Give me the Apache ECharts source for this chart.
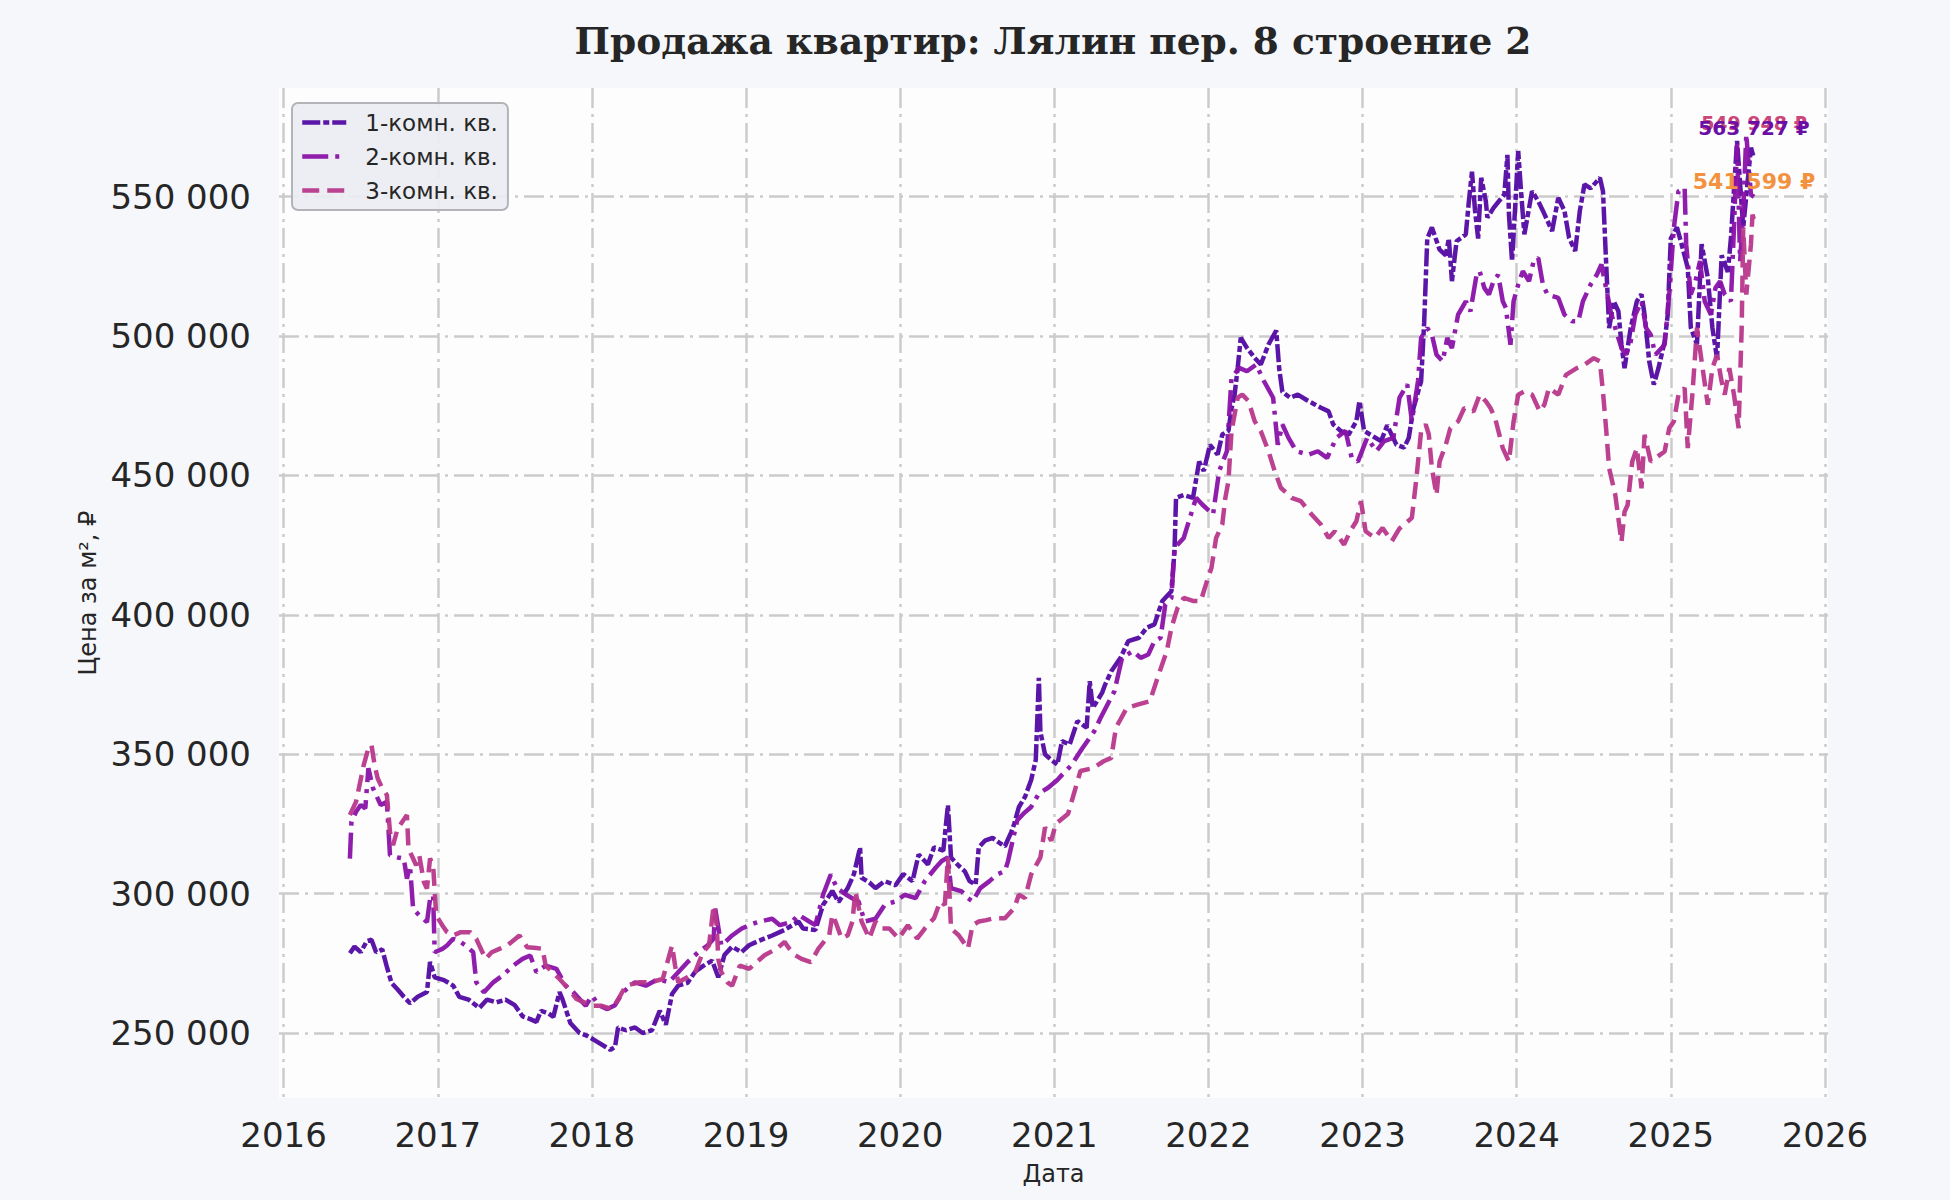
<!DOCTYPE html>
<html>
<head>
<meta charset="utf-8">
<title>Продажа квартир: Лялин пер. 8 строение 2</title>
<script src="https://cdn.jsdelivr.net/npm/echarts@6/dist/echarts.min.js"></script>
<style>
  html, body { margin: 0; padding: 0; background: #f5f7fb; }
  #chart { width: 1950px; height: 1200px; }
</style>
</head>
<body>
<div id="chart"></div>
<script>
// x: decimal year, values: thousand rubles per m2
var names = ['1-комн. кв.', '2-комн. кв.', '3-комн. кв.'];
var colors = ['#520aa2', '#8a12a8', '#b8388b'];

var t1 = [2016.43,2016.46,2016.50,2016.54,2016.57,2016.60,2016.64,2016.67,2016.70,2016.74,2016.78,2016.82,2016.87,2016.93,2016.95,2016.98,
  2017.04,2017.10,2017.14,2017.20,2017.27,2017.32,2017.38,2017.44,2017.50,2017.55,2017.60,2017.64,2017.67,2017.72,2017.75,2017.79,2017.81,2017.86,2017.92,2017.97,
  2018.03,2018.09,2018.12,2018.15,2018.17,2018.22,2018.28,2018.33,2018.39,2018.44,2018.48,2018.52,2018.56,2018.62,2018.67,2018.72,2018.78,2018.82,2018.86,2018.91,2018.97,
  2019.02,2019.08,2019.17,2019.25,2019.34,2019.37,2019.45,2019.50,2019.56,2019.60,2019.66,2019.70,2019.74,2019.75,2019.80,2019.84,2019.90,2019.97,
  2020.02,2020.08,2020.12,2020.18,2020.22,2020.28,2020.31,2020.33,2020.38,2020.42,2020.45,2020.49,2020.51,2020.55,2020.60,2020.65,2020.68,2020.72,2020.74,2020.77,2020.81,2020.85,2020.88,2020.90,2020.91,2020.94,2020.98,
  2021.02,2021.05,2021.10,2021.15,2021.21,2021.23,2021.25,2021.31,2021.33,2021.37,2021.43,2021.48,2021.55,2021.60,2021.65,2021.70,2021.76,2021.78,2021.79,2021.84,2021.90,2021.94,2021.97,
  2022.01,2022.06,2022.09,2022.13,2022.15,2022.17,2022.19,2022.21,2022.25,2022.30,2022.34,2022.39,2022.44,2022.46,2022.48,2022.53,2022.58,2022.64,2022.69,2022.73,2022.78,2022.81,2022.86,2022.91,2022.96,2022.98,
  2023.01,2023.07,2023.12,2023.16,2023.22,2023.27,2023.30,2023.33,2023.38,2023.40,2023.42,2023.45,2023.50,2023.54,2023.56,2023.58,2023.61,2023.67,2023.69,2023.71,2023.73,2023.75,2023.77,2023.80,2023.81,2023.85,2023.92,2023.94,2023.95,2023.97,2023.99,
  2024.01,2024.03,2024.05,2024.10,2024.14,2024.17,2024.23,2024.27,2024.31,2024.34,2024.38,2024.41,2024.44,2024.48,2024.54,2024.56,2024.58,2024.60,2024.63,2024.66,2024.68,2024.70,2024.74,2024.78,2024.81,2024.83,2024.86,2024.89,2024.92,2024.96,2024.98,
  2025.00,2025.04,2025.07,2025.11,2025.13,2025.17,2025.20,2025.24,2025.27,2025.30,2025.33,2025.37,2025.39,2025.43,2025.47,2025.52,2025.54];
var p1 = [278.6,281,279,283,283.5,279,280,273.7,268,265.6,263,260.7,263,264.7,275.5,270,
  269,267,263,262,259,262,261,262,260,256,255,254,258,257,255.8,264.7,262,253.6,250,249,
  247,245,244,245,252,251,252,250,251,258,253,264,267,268,272,274,276,270,278,281,279,
  281.5,283,285,287,290,287.5,287,296,301,297,302,307,316.6,305.7,304,302,304.5,303,
  307,304.5,314,310.5,316.6,315.4,331.7,313,310,308,304.5,303.3,316.6,319,320,318,317,322,325,331,334.7,340.8,348,377.4,358,350,348,
  346.3,354.7,353.5,361.9,359.5,376.2,366.6,372,375,379.8,384.6,390.6,391.8,395.4,396.6,404.9,408.5,422.9,442,443,442,455,451.6,
  461,457.5,464.7,466,474,479,488.6,499.4,495.8,492.2,489.8,497,502,488,480,477.9,479,477,475.5,474.3,473,468.3,465.9,464.7,469.5,476.7,
  466,464,462.3,468,461,460,463.5,474,483.8,505,535,539,531,529,535,519.7,534,536.5,548.4,559,545,535,556.8,548.4,542.5,546,550.8,565,543.6,526.9,546,
  566.4,550.8,536.5,552,548.4,545,537.7,549.6,545,535.3,530.5,545,554.4,553,556.8,552,526.9,502.9,512.5,508.9,497,488.5,503,512.5,515,507.7,491,482.6,488.5,498,507.7,
  535,539,533,524.5,503,497,533,521,503,492,529,523,535,570,539,567.6,563.727];

var t2 = [2016.43,2016.44,2016.47,2016.50,2016.53,2016.55,2016.58,2016.63,2016.67,2016.69,2016.74,2016.78,2016.80,2016.82,2016.84,2016.88,2016.93,2016.95,2016.97,2016.98,
  2017.03,2017.06,2017.10,2017.14,2017.18,2017.23,2017.25,2017.30,2017.36,2017.42,2017.49,2017.55,2017.60,2017.64,2017.70,2017.77,2017.83,2017.88,2017.92,2017.96,
  2018.00,2018.05,2018.10,2018.15,2018.20,2018.28,2018.35,2018.43,2018.50,2018.56,2018.62,2018.69,2018.75,2018.79,2018.80,2018.84,2018.91,2018.97,
  2019.03,2019.09,2019.17,2019.22,2019.30,2019.34,2019.41,2019.45,2019.50,2019.55,2019.59,2019.65,2019.70,2019.73,2019.77,2019.84,2019.90,2019.97,
  2020.03,2020.10,2020.16,2020.23,2020.27,2020.31,2020.33,2020.40,2020.44,2020.47,2020.52,2020.58,2020.63,2020.68,2020.70,2020.73,2020.76,2020.80,2020.85,2020.90,2020.96,
  2021.02,2021.06,2021.11,2021.18,2021.26,2021.30,2021.39,2021.44,2021.51,2021.56,2021.61,2021.65,2021.69,2021.72,2021.76,2021.78,2021.84,2021.88,2021.92,2021.96,
  2022.03,2022.07,2022.12,2022.15,2022.20,2022.25,2022.31,2022.36,2022.42,2022.45,2022.48,2022.52,2022.57,2022.65,2022.71,2022.77,2022.83,2022.89,2022.93,2022.97,
  2023.03,2023.09,2023.14,2023.20,2023.24,2023.29,2023.32,2023.36,2023.38,2023.42,2023.45,2023.48,2023.52,2023.55,2023.58,2023.62,2023.67,2023.70,2023.74,2023.76,2023.79,2023.82,2023.85,2023.88,2023.91,2023.93,2023.96,2023.98,
  2024.01,2024.04,2024.08,2024.11,2024.14,2024.17,2024.20,2024.27,2024.31,2024.36,2024.40,2024.43,2024.48,2024.52,2024.55,2024.58,2024.61,2024.64,2024.68,2024.71,2024.74,2024.77,2024.81,2024.84,2024.87,2024.90,2024.96,2024.99,
  2025.02,2025.05,2025.09,2025.10,2025.13,2025.16,2025.19,2025.22,2025.26,2025.29,2025.32,2025.35,2025.39,2025.41,2025.43,2025.45,2025.47,2025.49,2025.52,2025.54];
var p2 = [312.6,325.8,329.4,331.8,330.6,345,337.8,331.8,333,313.8,313,312.6,305.4,310,294.6,292.2,289.8,298,299.4,279,
  280.2,281.4,283.8,283,281.4,279,268.2,264.6,268.2,270.6,274.2,276.6,277.8,271.8,274.2,273,267,264.6,262.2,259.8,
  263.4,259.8,258.6,260,264.6,268.2,267,269.4,268.2,271.8,275.4,279,281.4,283.8,294.6,281.4,285,287.4,
  289,290,291,288.7,290,292.4,290,288.7,299.6,306.9,302,299.6,298,297.2,290,291,296,297.2,
  299.6,298.4,304.5,309.3,311.7,313,302,300.8,298.4,297.2,302,304.5,306.9,308.1,311.7,319,326.3,328.7,331.1,335.9,338,
  340.8,343.2,346,352,358.3,363,372.6,384.6,387,384.6,385.8,390.6,391.8,403.7,406.1,424,427.6,434.8,442,439.6,
  436,451.6,458.7,485,488.6,487.4,489.8,483.9,477.9,461,468.3,463.5,458.7,457.5,458.7,456.3,463.5,466,456.3,455,
  463.5,458.7,462.3,463.5,477.9,482.7,469.5,483.9,499.4,502.9,500.5,493.3,491,499.3,495.7,507.7,512.5,508.9,522,523.3,517.3,514.9,519.7,522,512.5,510.1,496.9,512.5,
  518.5,523.3,519.7,526.9,528.1,518.5,514.9,513.7,507.7,505.3,505.3,512.5,518.5,522,525.7,517.3,508.9,502.9,495.7,493.3,498,507.7,512.5,502.9,500.5,493.3,496.9,514.9,
  538.9,552,553.2,532.9,514.9,519.7,526.9,512.5,507.7,517.3,519.7,514.9,512.5,538.9,568.8,526.9,544.9,572.4,550.8,549.948];

var t3 = [2016.43,2016.47,2016.52,2016.55,2016.57,2016.59,2016.61,2016.64,2016.67,2016.69,2016.71,2016.74,2016.80,2016.81,2016.84,2016.86,2016.88,2016.91,2016.93,2016.95,2016.97,2016.99,
  2017.03,2017.06,2017.10,2017.15,2017.21,2017.25,2017.29,2017.31,2017.35,2017.40,2017.45,2017.53,2017.58,2017.64,2017.68,2017.70,2017.76,2017.79,2017.83,2017.90,2017.95,
  2018.00,2018.06,2018.13,2018.17,2018.22,2018.31,2018.38,2018.46,2018.52,2018.54,2018.56,2018.62,2018.67,2018.72,2018.76,2018.79,2018.81,2018.82,2018.84,2018.88,2018.91,2018.96,
  2019.02,2019.06,2019.12,2019.20,2019.25,2019.28,2019.32,2019.36,2019.42,2019.47,2019.54,2019.56,2019.58,2019.62,2019.66,2019.69,2019.71,2019.75,2019.80,2019.84,2019.88,2019.93,2019.99,
  2020.05,2020.11,2020.16,2020.22,2020.26,2020.29,2020.31,2020.33,2020.38,2020.41,2020.44,2020.47,2020.51,2020.56,2020.61,2020.68,2020.74,2020.77,2020.81,2020.85,2020.91,2020.94,2020.98,
  2021.01,2021.09,2021.17,2021.25,2021.32,2021.37,2021.40,2021.47,2021.54,2021.62,2021.67,2021.73,2021.76,2021.80,2021.84,2021.90,2021.95,2021.99,
  2022.02,2022.05,2022.09,2022.11,2022.13,2022.15,2022.19,2022.22,2022.26,2022.30,2022.34,2022.39,2022.43,2022.47,2022.54,2022.60,2022.67,2022.73,2022.78,2022.82,2022.88,2022.92,2022.96,2022.99,
  2023.02,2023.08,2023.13,2023.19,2023.24,2023.32,2023.35,2023.38,2023.41,2023.43,2023.45,2023.48,2023.50,2023.54,2023.57,2023.62,2023.66,2023.72,2023.76,2023.80,2023.83,2023.86,2023.91,2023.95,2023.98,
  2024.01,2024.05,2024.10,2024.15,2024.18,2024.21,2024.27,2024.32,2024.39,2024.44,2024.50,2024.54,2024.56,2024.58,2024.60,2024.64,2024.68,2024.70,2024.72,2024.75,2024.78,2024.81,2024.83,2024.87,2024.90,2024.96,2024.99,
  2025.02,2025.05,2025.09,2025.11,2025.14,2025.17,2025.20,2025.24,2025.27,2025.30,2025.33,2025.35,2025.38,2025.41,2025.44,2025.46,2025.47,2025.49,2025.52,2025.53,2025.54];
var p3 = [328.2,333,346.2,352.2,353.4,346.2,341.4,337.8,335.4,322.2,317.4,323.4,328.2,316.2,312.6,310.2,313.8,304.2,301.8,312.6,310.2,292.2,
  288.6,286.2,285,286.2,286.2,283.8,279,276.6,279,280.2,281.4,285,280.8,280.5,280.2,274.2,271,269.4,267,262.2,261,
  259.8,259.8,258.6,262,267,268.2,268.2,269.4,281.4,274.2,268.2,270,271.8,279,281.4,295.8,288.6,276.6,271.8,268.2,267,274.2,
  273,275,277.9,280.3,282.7,280.3,277.9,276.6,275.4,280.3,285.1,292.4,290,283.9,285.1,290,300.8,290,283.9,290,287.5,287.5,283.9,
  288.7,283.9,287.5,291.2,297.2,296,313,287.5,285.1,282.7,280.3,288.7,290,290.5,291.2,291.2,294.8,299.6,298.4,306.9,313,323.8,319,
  325,328.7,344,345,347.5,348.7,359.5,366.6,367.8,369,377.4,387,395.4,402.5,406.1,405,404.9,412,
  416.9,427.6,432.4,442,448,465.9,477.9,479,476.7,469.5,465.9,458.7,451.6,445.6,442,440.8,436,432.4,427.6,430,425.2,430,433.6,440.8,
  430,427.6,431.2,426.4,431,434.8,449.2,465.9,468.3,464.7,452.6,443,455,461,467,469.4,474.2,473,479,476.6,474.2,470.6,459.8,455,469.4,
  479,480.2,479,473,475.4,481.4,479,486.1,488.5,489.7,492.1,490.9,480,467,452.6,443,426.2,437,439.4,455,459.8,445.4,464.6,455,456.2,458.6,467,
  469.4,479,481.4,459.8,479,503,491,475.4,488.5,493.3,483.7,479,488.5,479,467,503,538.9,514.9,532.9,543.6,541.599];

var times = [t1, t2, t3];
var prices = [p1, p2, p3];
var dashes = [[18, 3, 6, 3], [26, 7, 4, 7], [17, 8]];
var endLabelColors = ['#6a0ea6', '#cb4679', '#f2923e'];
var endLabelSizes = [20, 19, 22];
var endLabelOffsets = [[0, -30], [0, -74], [0, -39]];
var yTicks = [250000, 300000, 350000, 400000, 450000, 500000, 550000];
var xTicks = [2016, 2017, 2018, 2019, 2020, 2021, 2022, 2023, 2024, 2025, 2026];

function spaced(n) {
  return String(Math.round(n)).replace(/\B(?=(\d{3})+(?!\d))/g, ' ');
}
function isTick(v, list) {
  for (var i = 0; i < list.length; i++) {
    if (Math.abs(v - list[i]) < 1e-6) return true;
  }
  return false;
}

var series = [];
var lastPoints = [];
for (var s = 0; s < 3; s++) {
  var data = [];
  for (var i = 0; i < times[s].length; i++) {
    data.push([times[s][i], prices[s][i] * 1000]);
  }
  lastPoints.push(data[data.length - 1]);
  series.push({
    name: names[s],
    type: 'line',
    data: data,
    symbol: 'none',
    showSymbol: false,
    z: 3 + s,
    lineStyle: { color: colors[s], width: 4.5, type: dashes[s], opacity: 0.95 },
    itemStyle: { color: colors[s] }
  });
}

var titleText = {
  type: 'text',
  id: 'title',
  x: 1053,
  y: 41,
  style: {
    text: 'Продажа квартир: Лялин пер. 8 строение 2',
    align: 'center',
    verticalAlign: 'middle',
    font: 'bold 37.5px "DejaVu Serif"',
    fill: '#262626'
  }
};

var chart = echarts.init(document.getElementById('chart'), null, { renderer: 'svg' });
chart.setOption({
  backgroundColor: '#f5f7fb',
  animation: false,
  color: colors,
  textStyle: { fontFamily: 'DejaVu Sans' },
  graphic: [titleText],
  grid: {
    left: 279, right: 122, top: 88, bottom: 102,
    show: true, backgroundColor: '#fdfdfe', borderWidth: 0
  },
  legend: {
    orient: 'vertical',
    left: 292, top: 103,
    backgroundColor: 'rgba(236,237,243,0.92)',
    borderColor: '#b4b4b8', borderWidth: 2, borderRadius: 6,
    padding: [8, 10, 8, 8],
    itemGap: 11, itemWidth: 44, itemHeight: 16,
    itemStyle: { opacity: 0 },
    lineStyle: { width: 4.5 },
    textStyle: { fontSize: 23, color: '#262626', fontFamily: 'DejaVu Sans', padding: [0, 0, 0, 14] },
    data: names
  },
  xAxis: {
    type: 'value',
    min: 2015.97, max: 2026.02,
    minInterval: 1, maxInterval: 1, splitNumber: 10,
    name: 'Дата',
    nameLocation: 'middle',
    nameGap: 64,
    nameTextStyle: { fontSize: 24, color: '#262626' },
    axisLine: { show: false },
    axisTick: { show: false },
    axisLabel: {
      fontSize: 34, color: '#262626', margin: 20,
      formatter: function (v) { return isTick(v, xTicks) ? String(Math.round(v)) : ''; }
    },
    splitLine: {
      show: true, showMinLine: false, showMaxLine: false,
      lineStyle: { color: '#cbcbcb', width: 2.5, type: [20, 6, 3, 6] }
    }
  },
  yAxis: {
    type: 'value',
    min: 226700, max: 589000,
    minInterval: 50000, maxInterval: 50000, splitNumber: 7,
    name: 'Цена за м², ₽',
    nameLocation: 'middle',
    nameGap: 177,
    nameTextStyle: { fontSize: 24, color: '#262626' },
    axisLine: { show: false },
    axisTick: { show: false },
    axisLabel: {
      fontSize: 34, color: '#262626', margin: 28,
      formatter: function (v) { return isTick(v, yTicks) ? spaced(v) : ''; }
    },
    splitLine: {
      show: true, showMinLine: false, showMaxLine: false,
      lineStyle: { color: '#cbcbcb', width: 2.5, type: [20, 6, 3, 6] }
    }
  },
  series: series
});

// last-value labels, placed from the axes' own scale
var graphics = [titleText];
var order = [1, 0, 2];
for (var k = 0; k < order.length; k++) {
  var j = order[k];
  var px = chart.convertToPixel({ gridIndex: 0 }, lastPoints[j]);
  graphics.push({
    type: 'text',
    id: 'end' + j,
    z: 100,
    x: px[0] + endLabelOffsets[j][0],
    y: px[1] + endLabelOffsets[j][1],
    style: {
      text: spaced(lastPoints[j][1]) + ' ₽',
      align: 'center',
      verticalAlign: 'middle',
      font: 'bold ' + endLabelSizes[j] + 'px "DejaVu Sans"',
      fill: endLabelColors[j]
    }
  });
}
chart.setOption({ graphic: graphics });
</script>
</body>
</html>
